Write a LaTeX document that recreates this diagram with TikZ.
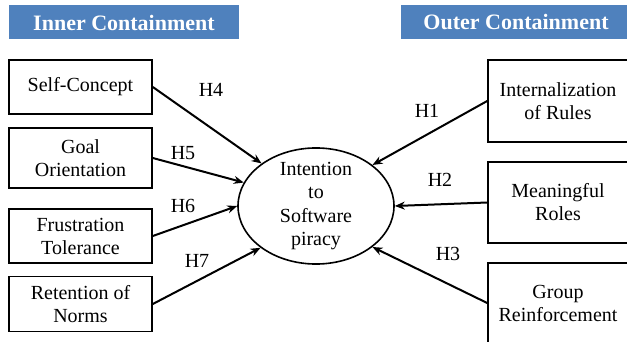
\documentclass[tikz,border=0pt]{standalone}
\usepackage{fontspec}
\setmainfont{Liberation Serif}
\usetikzlibrary{shapes.geometric,arrows.meta}
\definecolor{bannerblue}{HTML}{4F81BD}
\tikzset{
  factor/.style={draw, line width=1.6pt, minimum width=143, align=center,
    font=\fontsize{20}{23}\selectfont},
  banner/.style={fill=bannerblue, text=white, minimum width=230, minimum height=34,
    font=\fontsize{22}{26}\selectfont\bfseries},
  hyp/.style={font=\fontsize{20}{23}\selectfont},
  link/.style={line width=2pt, -{Stealth[length=10pt,width=8pt]}}
}
\begin{document}
\begin{tikzpicture}[x=1pt,y=-1pt]
     \useasboundingbox (0,0) rectangle (627,342);
     \node[banner] (innerhead) at (124,22.5) {Inner Containment};
     \node[banner] (outerhead) at (516,22.5) {Outer Containment};
     % inner containment
     \node[factor, minimum height=54] (selfcon) at (80.5,87) {Self-Concept};
     \node[factor, minimum height=60] (goal) at (80.5,158) {Goal\\Orientation};
     \node[factor, minimum height=54] (frust) at (80.5,236) {Frustration\\Tolerance};
     \node[factor, minimum height=55] (norms) at (80.5,304) {Retention of\\Norms};
     % outer containment
     \node[factor, minimum width=140, minimum height=82] (rules) at (558,101) {Internalization\\of Rules};
     \node[factor, minimum width=140, minimum height=81] (roles) at (558,202.5) {Meaningful\\Roles};
     \node[factor, minimum width=140, minimum height=80] (group) at (558,303) {Group\\Reinforcement};
     % dependent variable
     \node[draw, ellipse, line width=1.6pt, minimum width=156, minimum height=116, inner sep=-3pt,
       align=center, font=\fontsize{20}{23.5}\selectfont] (piracy) at (316,206) {Intention\\to\\Software\\piracy};
     \draw[link] (selfcon.east) -- (piracy.142);
     \draw[link] (goal.east) -- (piracy.162);
     \draw[link] (frust.east) -- (piracy.west);
     \draw[link] (norms.east) -- (piracy.217);
     \draw[link] (rules.west) -- (piracy.36);
     \draw[link] (roles.west) -- (piracy.east);
     \draw[link] (group.west) -- (piracy.324);
     \node[hyp] (h4) at (211,90) {H4};
     \node[hyp] (h5) at (183,153) {H5};
     \node[hyp] (h6) at (183,206) {H6};
     \node[hyp] (h7) at (197,261) {H7};
     \node[hyp] (h1) at (427,111) {H1};
     \node[hyp] (h2) at (440,180) {H2};
     \node[hyp] (h3) at (448,254) {H3};
\end{tikzpicture}
\end{document}
